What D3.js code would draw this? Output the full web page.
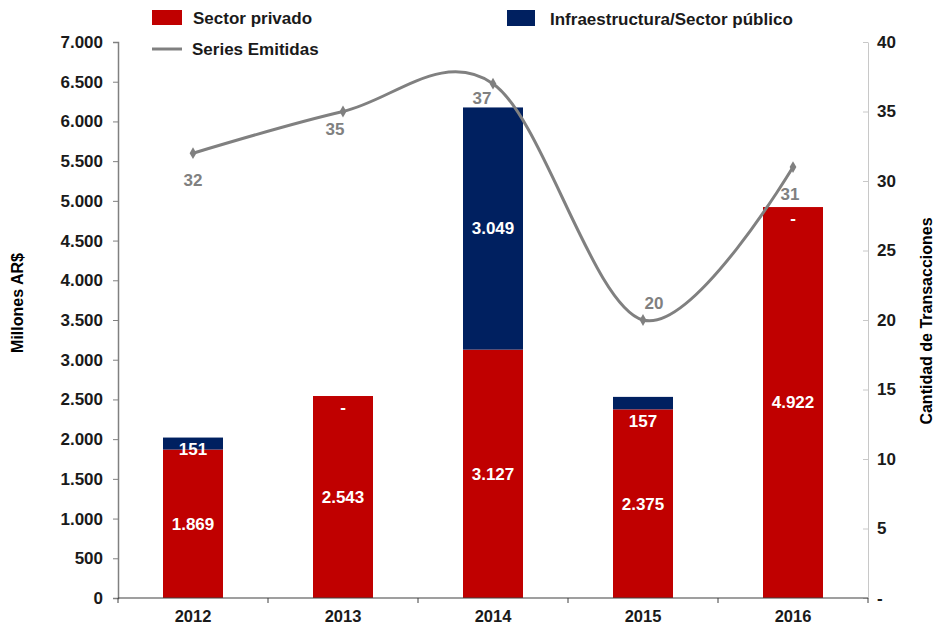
<!DOCTYPE html>
<html>
<head>
<meta charset="utf-8">
<script src="https://d3js.org/d3.v7.min.js"></script>
<style>
  body { margin: 0; background: #fff; }
  text { font-family: "Liberation Sans", Arial, sans-serif; font-weight: bold; }
</style>
</head>
<body>
<div id="chart"></div>
<script>

// data
var years = ["2012", "2013", "2014", "2015", "2016"]
var privado = [1869, 2543, 3127, 2375, 4922]
var publico = [151, 0, 3049, 157, 0]
var series = [32, 35, 37, 20, 31]
var leftTicks = [0, 500, 1000, 1500, 2000, 2500, 3000, 3500, 4000, 4500, 5000, 5500, 6000, 6500, 7000]
var rightTicks = [0, 5, 10, 15, 20, 25, 30, 35, 40]

var width = 934
var height = 628
var red = "#C00000", navy = "#002060", gray = "#808080"

var es = d3.formatLocale({ decimal: ",", thousands: ".", grouping: [3], currency: ["$", ""] })
var fmt = es.format(",d")

var svg = d3.select("#chart")
  .append("svg")
    .attr("width", width)
    .attr("height", height)

// scales
var x = d3.scaleBand()
  .domain(years)
  .range([118, 868])
  .paddingInner(0.6)
  .paddingOuter(0.3)

var y = d3.scaleLinear().domain([0, 7000]).range([598, 42])
var yR = d3.scaleLinear().domain([0, 40]).range([598, 42])

// left axis
var gl = svg.append("g")
  .attr("transform", "translate(118,0)")
  .call(d3.axisLeft(y).tickValues(leftTicks).tickFormat(fmt).tickSize(5).tickPadding(10))
gl.select(".domain").attr("stroke", "#808080").attr("stroke-width", 1.5)
gl.selectAll(".tick line").attr("stroke", "#808080")
gl.selectAll(".tick text").attr("font-size", 17).attr("fill", "#1a1a1a")
  .style("font-family", "Liberation Sans, Arial, sans-serif").style("font-weight", "bold")

// right axis
var gr = svg.append("g")
  .attr("transform", "translate(868,0)")
  .call(d3.axisRight(yR).tickValues(rightTicks).tickFormat(function(d){ return d === 0 ? "-" : d }).tickSize(0).tickPadding(9))
gr.select(".domain").attr("stroke", "#c8c8c8")
gr.selectAll(".tick").append("line").attr("x1", -5).attr("x2", 0).attr("stroke", "#c8c8c8")
gr.selectAll(".tick text").attr("font-size", 17).attr("fill", "#1a1a1a").attr("text-anchor", "start")
  .style("font-family", "Liberation Sans, Arial, sans-serif").style("font-weight", "bold")

// bars
var g = svg.append("g")
g.selectAll(".priv")
  .data(years)
  .enter()
  .append("rect")
    .attr("x", function(d){ return x(d) })
    .attr("width", x.bandwidth())
    .attr("y", function(d, i){ return y(privado[i]) })
    .attr("height", function(d, i){ return y(0) - y(privado[i]) })
    .attr("fill", red)

g.selectAll(".pub")
  .data(years)
  .enter()
  .append("rect")
    .attr("x", function(d){ return x(d) })
    .attr("width", x.bandwidth())
    .attr("y", function(d, i){ return y(privado[i] + publico[i]) })
    .attr("height", function(d, i){ return y(privado[i]) - y(privado[i] + publico[i]) })
    .attr("fill", navy)

// x axis (ticks between categories)
var gx = svg.append("g")
  .attr("transform", "translate(0,598)")
gx.append("line").attr("x1", 118).attr("x2", 868).attr("stroke", "#404040").attr("stroke-width", 1.2)
gx.selectAll(".bt")
  .data(d3.range(years.length + 1))
  .enter()
  .append("line")
    .attr("x1", function(i){ return 118 + i * x.step() })
    .attr("x2", function(i){ return 118 + i * x.step() })
    .attr("y1", 0).attr("y2", 5)
    .attr("stroke", "#404040")
gx.selectAll(".lab")
  .data(years)
  .enter()
  .append("text")
    .attr("x", function(d){ return x(d) + x.bandwidth() / 2 })
    .attr("y", 24)
    .attr("text-anchor", "middle")
    .attr("font-size", 16.5)
    .attr("fill", "#1a1a1a")
    .text(function(d){ return d })

// bar labels
g.selectAll(".lp")
  .data(years)
  .enter()
  .append("text")
    .attr("x", function(d){ return x(d) + x.bandwidth() / 2 })
    .attr("y", function(d, i){ return (y(0) + y(privado[i])) / 2 })
    .attr("dy", "0.35em")
    .attr("text-anchor", "middle")
    .attr("font-size", 17)
    .attr("fill", "#fff")
    .text(function(d, i){ return fmt(privado[i]) })

var pubShift = [5, 0, 0, 18, 0]
g.selectAll(".lq")
  .data(years)
  .enter()
  .append("text")
    .attr("x", function(d){ return x(d) + x.bandwidth() / 2 })
    .attr("y", function(d, i){
      if (publico[i] === 0) return y(privado[i]) + 11
      return (y(privado[i]) + y(privado[i] + publico[i])) / 2 + pubShift[i]
    })
    .attr("dy", "0.35em")
    .attr("text-anchor", "middle")
    .attr("font-size", 17)
    .attr("fill", "#fff")
    .text(function(d, i){ return publico[i] === 0 ? "-" : fmt(publico[i]) })

// line
var pts = years.map(function(d, i){ return [x(d) + x.bandwidth() / 2, yR(series[i])] })
svg.append("path")
  .attr("d", d3.line().curve(d3.curveCardinal.tension(0))(pts))
  .attr("fill", "none")
  .attr("stroke", gray)
  .attr("stroke-width", 3)

svg.selectAll(".mk")
  .data(pts)
  .enter()
  .append("path")
    .attr("d", d3.symbol().type(d3.symbolDiamond).size(40))
    .attr("transform", function(p){ return "translate(" + p[0] + "," + p[1] + ")" })
    .attr("fill", gray)

var lblOff = [[0, 27], [-8, 18], [-11, 14], [11, -17], [-3, 27]]
svg.selectAll(".ls")
  .data(pts)
  .enter()
  .append("text")
    .attr("x", function(p, i){ return p[0] + lblOff[i][0] })
    .attr("y", function(p, i){ return p[1] + lblOff[i][1] })
    .attr("dy", "0.35em")
    .attr("text-anchor", "middle")
    .attr("font-size", 17)
    .attr("fill", gray)
    .text(function(p, i){ return series[i] })

// axis titles
svg.append("text")
  .attr("transform", "translate(23,303) rotate(-90)")
  .attr("text-anchor", "middle")
  .attr("font-size", 16)
  .attr("fill", "#000")
  .text("Millones AR$")
svg.append("text")
  .attr("transform", "translate(932,321) rotate(-90)")
  .attr("text-anchor", "middle")
  .attr("font-size", 16)
  .attr("fill", "#000")
  .text("Cantidad de Transacciones")

// legend
var lg = svg.append("g")
lg.append("rect").attr("x", 152).attr("y", 10).attr("width", 30).attr("height", 15).attr("fill", red)
lg.append("text").attr("x", 193).attr("y", 24).attr("font-size", 17).attr("fill", "#1a1a1a").text("Sector privado")
lg.append("line").attr("x1", 152).attr("x2", 182).attr("y1", 49).attr("y2", 49).attr("stroke", gray).attr("stroke-width", 3)
lg.append("text").attr("x", 192).attr("y", 55).attr("font-size", 17).attr("fill", "#1a1a1a").text("Series Emitidas")
lg.append("rect").attr("x", 507).attr("y", 10).attr("width", 28).attr("height", 16).attr("fill", navy)
lg.append("text").attr("x", 550).attr("y", 25).attr("font-size", 17).attr("fill", "#1a1a1a").text("Infraestructura/Sector público")

</script>
</body>
</html>
